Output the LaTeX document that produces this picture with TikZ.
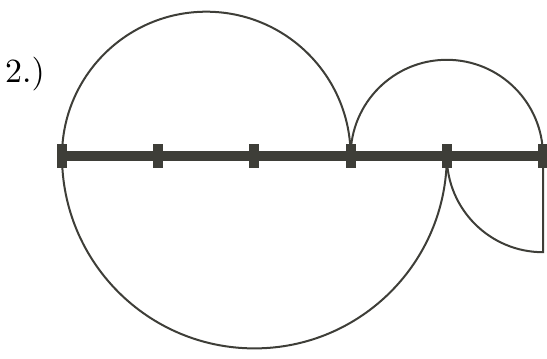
\documentclass[tikz,border=0pt]{standalone}
\usetikzlibrary{calc}
\definecolor{rodgray}{RGB}{62,62,56}

\begin{document}
\begin{tikzpicture}[x=1bp, y=1bp,
  rod/.style={draw=rodgray, line width=10bp},
  tickmark/.style={fill=rodgray},
  curve/.style={draw=rodgray, line width=2bp}
]
  \useasboundingbox (0,0) rectangle (547,358);
  % points on the rod
  \foreach \i in {0,...,5} {
    \coordinate (t\i) at ({62+96.2*\i}, 202);
  }
  % arcs
  \draw[curve] (t0) arc[start angle=180, end angle=0, radius=144.3];
  \draw[curve] (t0) arc[start angle=180, end angle=360, radius=192.4];
  \draw[curve] (t3) arc[start angle=180, end angle=0, radius=96.2];
  \draw[curve] (t4) arc[start angle=180, end angle=270, radius=96.2] -- (t5);
  % rod and ticks
  \draw[rod] (t0) -- (t5);
  \foreach \i in {0,...,5} {
    \fill[tickmark] ($(t\i)+(-5,-12)$) rectangle ($(t\i)+(5,12)$);
  }
  \node[scale=3.4, transform shape] (label) at (25,284) {2.)};
\end{tikzpicture}
\end{document}
